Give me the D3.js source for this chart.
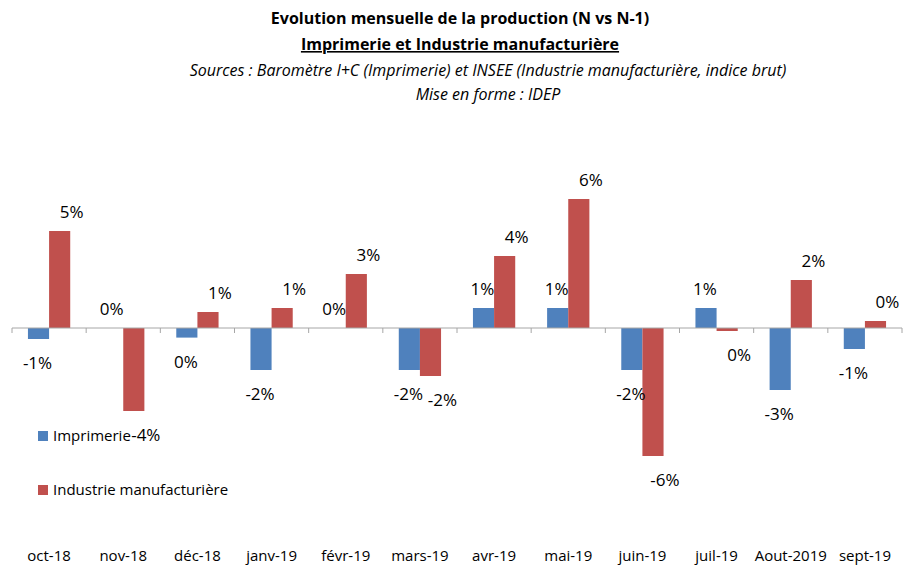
<!DOCTYPE html>
<html>
<head>
<meta charset="utf-8">
<script src="https://cdn.jsdelivr.net/npm/d3@7"></script>
<style>
  body { margin: 0; background: #fff; }
  text { font-family: "Open Sans", sans-serif; fill: #000; }
</style>
</head>
<body>
<div id="chart"></div>
<script>
// data (in %)
var months = ["oct-18", "nov-18", "déc-18", "janv-19", "févr-19", "mars-19",
              "avr-19", "mai-19", "juin-19", "juil-19", "Aout-2019", "sept-19"];
var seriesNames = ["Imprimerie", "Industrie manufacturière"];
var imprimerie = [-0.55, 0.0, -0.48, -2.1, 0.0, -2.1, 1.0, 1.0, -2.1, 1.0, -3.1, -1.05];
var industrie = [4.85, -4.15, 0.8, 1.0, 2.7, -2.4, 3.6, 6.45, -6.4, -0.15, 2.4, 0.35];
var colors = ["#4F81BD", "#C0504D"];

var width = 903, height = 567;

var svg = d3.select("#chart").append("svg")
   .attr("width", width)
   .attr("height", height);

// titles
var titles = svg.append("g").attr("text-anchor", "middle");
titles.append("text").attr("x", 460).attr("y", 24)
   .style("font-size", "16px").style("font-weight", "bold")
   .text("Evolution mensuelle de la production (N vs N-1)");
titles.append("text").attr("x", 460).attr("y", 50)
   .style("font-size", "16px").style("font-weight", "bold")
   .style("text-decoration", "underline")
   .text("Imprimerie et Industrie manufacturière");
titles.append("text").attr("x", 488).attr("y", 76)
   .style("font-size", "16px").style("font-style", "italic")
   .text("Sources : Baromètre I+C (Imprimerie) et INSEE (Industrie manufacturière, indice brut)");
titles.append("text").attr("x", 488).attr("y", 100)
   .style("font-size", "16px").style("font-style", "italic")
   .text("Mise en forme : IDEP");

// scales
var x0 = d3.scaleBand()
   .domain(months)
   .range([12, 902]);

var x1 = d3.scaleBand()
   .domain(seriesNames)
   .range([x0.bandwidth() * 0.215, x0.bandwidth() * 0.785]);

var y = d3.scaleLinear()
   .domain([-6, 6])
   .range([448, 208]);

var data = months.map(function(m, i) {
   return { month: m, values: [imprimerie[i], industrie[i]] };
});

var groups = svg.selectAll(".month")
   .data(data)
   .enter().append("g")
   .attr("class", "month")
   .attr("transform", function(d) { return "translate(" + x0(d.month) + ",0)"; });

var bars = groups.selectAll("rect")
   .data(function(d) {
      return d.values.map(function(v, j) { return { name: seriesNames[j], value: v, j: j }; });
   })
   .enter();

bars.append("rect")
   .attr("x", function(d) { return x1(d.name); })
   .attr("width", x1.bandwidth())
   .attr("y", function(d) { return y(Math.max(0, d.value)); })
   .attr("height", function(d) { return Math.abs(y(d.value) - y(0)); })
   .attr("fill", function(d) { return colors[d.j]; });

// data labels, red ones sit a little to the right like in the original
bars.append("text")
   .attr("text-anchor", "middle")
   .attr("x", function(d) { return x1(d.name) + x1.bandwidth() / 2 + (d.j === 1 ? 12 : -1); })
   .attr("y", function(d) {
      return d.value >= 0 ? y(d.value) - 13 : y(d.value) + 30;
   })
   .style("font-size", "17px")
   .text(function(d) { return Math.round(d.value) + "%"; });

// x axis on the zero line
var axis = svg.append("g")
   .attr("transform", "translate(0," + y(0) + ")");
axis.append("line")
   .attr("x1", 12).attr("x2", 902)
   .attr("stroke", "#a6a6a6");
axis.selectAll(".tick")
   .data(months.concat(["end"]))
   .enter().append("line")
   .attr("x1", function(d) { return d === "end" ? 902 : x0(d); })
   .attr("x2", function(d) { return d === "end" ? 902 : x0(d); })
   .attr("y1", 0).attr("y2", 5)
   .attr("stroke", "#a6a6a6");

// month labels at the bottom
svg.append("g")
   .attr("transform", "translate(0,561)")
   .call(d3.axisBottom(x0).tickSize(0))
   .call(function(g) {
      g.select(".domain").remove();
      g.selectAll("text").attr("dy", 0).attr("y", 0)
         .style("font-size", "15px")
         .style("font-family", "\"Open Sans\", sans-serif");
   });

// legend
var legend = svg.append("g");
seriesNames.forEach(function(name, i) {
   var ly = 436 + i * 54;
   legend.append("rect")
      .attr("x", 38).attr("y", ly - 5)
      .attr("width", 10).attr("height", 10)
      .attr("fill", colors[i]);
   legend.append("text")
      .attr("x", 53).attr("y", ly + 5)
      .style("font-size", "15px")
      .text(name);
});
</script>
</body>
</html>
